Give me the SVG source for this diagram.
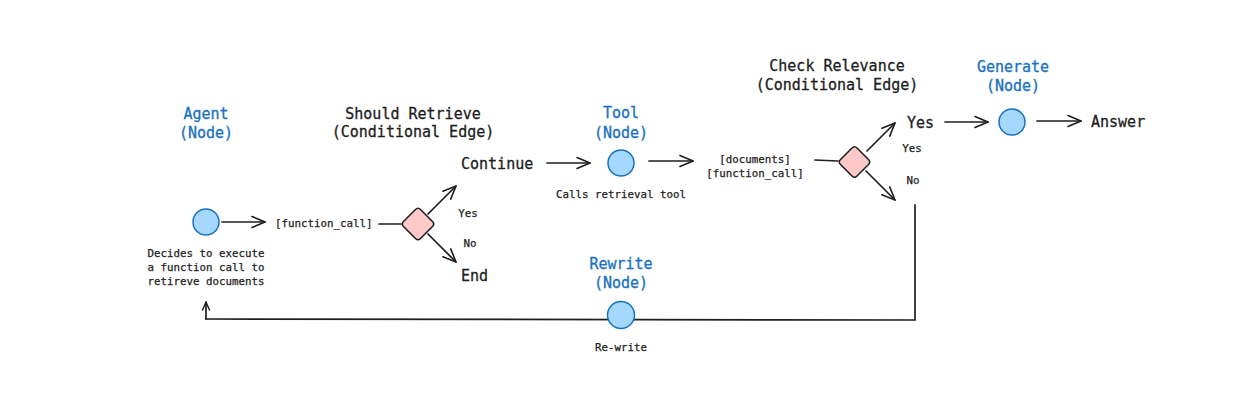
<svg xmlns="http://www.w3.org/2000/svg" width="1240" height="407" viewBox="0 0 1240 407">
<defs>
<style>
.big{font-family:"DejaVu Sans Mono","Liberation Mono",monospace;font-size:15px;fill:#1e1e1e;stroke:#1e1e1e;stroke-width:0.3}
.blue{font-family:"DejaVu Sans Mono","Liberation Mono",monospace;font-size:15px;fill:#1971c2;stroke:#1971c2;stroke-width:0.3}
.sm{font-family:"DejaVu Sans Mono","Liberation Mono",monospace;font-size:10.8px;fill:#1e1e1e;stroke:#1e1e1e;stroke-width:0.25}
.node{fill:#a5d8ff;stroke:#1971c2;stroke-width:1.5}
.dia{fill:#ffc9c9;stroke:#1e1e1e;stroke-width:1.5;stroke-linejoin:round}
.ln{fill:none;stroke:#1e1e1e;stroke-width:1.7;stroke-linecap:round}
.arr{fill:none;stroke:#1e1e1e;stroke-width:1.7;stroke-linecap:round;marker-end:url(#ah)}
</style>
<marker id="ah" viewBox="0 0 15 14" refX="14" refY="7" markerWidth="15" markerHeight="14" markerUnits="userSpaceOnUse" orient="auto">
<path d="M1,1.5 L14,7 L1,12.5" fill="none" stroke="#1e1e1e" stroke-width="1.6" stroke-linecap="round" stroke-linejoin="round"/>
</marker>
<marker id="ahs" viewBox="0 0 10 10" refX="9" refY="5" markerWidth="10" markerHeight="10" markerUnits="userSpaceOnUse" orient="auto">
<path d="M1,1.5 L9,5 L1,8.5" fill="none" stroke="#1e1e1e" stroke-width="1.4" stroke-linecap="round" stroke-linejoin="round"/>
</marker>
</defs>
<rect width="1240" height="407" fill="#ffffff"/>

<g id="connectors">
<path class="arr" d="M222,222 L265,222"/>
<text class="sm" x="275" y="227">[function_call]</text>
<path class="ln" d="M379,224 L401,224"/>
<path class="arr" d="M428,214 L456,186"/>
<path class="arr" d="M428,234 L456,262"/>
<text class="sm" x="468" y="217" text-anchor="middle">Yes</text>
<text class="sm" x="470" y="247" text-anchor="middle">No</text>
<path class="arr" d="M547,163 L590,163"/>
<path class="arr" d="M649,161 L693,161"/>
<text class="sm" x="755" y="163" text-anchor="middle">[documents]</text>
<text class="sm" x="755" y="177" text-anchor="middle">[function_call]</text>
<path class="ln" d="M815,160 L838,161"/>
<path class="arr" d="M867,151 L895,123"/>
<path class="arr" d="M866,171 L895,200"/>
<text class="sm" x="912" y="152" text-anchor="middle">Yes</text>
<text class="sm" x="913" y="184" text-anchor="middle">No</text>
<path class="arr" d="M945,122 L988,122"/>
<path class="arr" d="M1037,121 L1081,121"/>
<path class="ln" d="M915,205 L915,320 L206,319" style="stroke-linecap:square"/>
<path class="ln" d="M206,319 L206,302" style="marker-end:url(#ahs)"/>
</g>

<g id="agent">
<text class="blue" x="206" y="119" text-anchor="middle">Agent</text>
<text class="blue" x="206" y="138" text-anchor="middle">(Node)</text>
<circle class="node" cx="206" cy="222" r="13"/>
<text class="sm" x="206" y="257" text-anchor="middle">Decides to execute</text>
<text class="sm" x="206" y="271" text-anchor="middle">a function call to</text>
<text class="sm" x="206" y="285" text-anchor="middle">retireve documents</text>
</g>

<g id="should-retrieve">
<text class="big" x="413" y="119" text-anchor="middle">Should Retrieve</text>
<text class="big" x="413" y="137" text-anchor="middle">(Conditional Edge)</text>
<path class="dia" d="M415.5,209.5 Q418,207 420.5,209.5 L432.5,221.5 Q435,224 432.5,226.5 L420.5,238.5 Q418,241 415.5,238.5 L403.5,226.5 Q401,224 403.5,221.5 Z"/>
</g>

<g id="continue">
<text class="big" x="461" y="169">Continue</text>
</g>

<g id="end">
<text class="big" x="461" y="281">End</text>
</g>

<g id="tool">
<text class="blue" x="621" y="118" text-anchor="middle">Tool</text>
<text class="blue" x="621" y="138" text-anchor="middle">(Node)</text>
<circle class="node" cx="621" cy="163" r="13"/>
<text class="sm" x="621" y="198" text-anchor="middle">Calls retrieval tool</text>
</g>

<g id="check-relevance">
<text class="big" x="837" y="71" text-anchor="middle">Check Relevance</text>
<text class="big" x="837" y="90" text-anchor="middle">(Conditional Edge)</text>
<path class="dia" d="M852,148 Q854.5,145.5 857,148 L868.5,159.5 Q871,162 868.5,164.5 L857,176 Q854.5,178.5 852,176 L840.5,164.5 Q838,162 840.5,159.5 Z"/>
</g>

<g id="yes">
<text class="big" x="907" y="128">Yes</text>
</g>

<g id="generate">
<text class="blue" x="1013" y="72" text-anchor="middle">Generate</text>
<text class="blue" x="1013" y="91" text-anchor="middle">(Node)</text>
<circle class="node" cx="1012" cy="122" r="13"/>
</g>

<g id="answer">
<text class="big" x="1091" y="127">Answer</text>
</g>

<g id="rewrite">
<text class="blue" x="621" y="269" text-anchor="middle">Rewrite</text>
<text class="blue" x="621" y="288" text-anchor="middle">(Node)</text>
<circle class="node" cx="621" cy="315" r="13.5"/>
<text class="sm" x="621" y="351" text-anchor="middle">Re-write</text>
</g>
</svg>
